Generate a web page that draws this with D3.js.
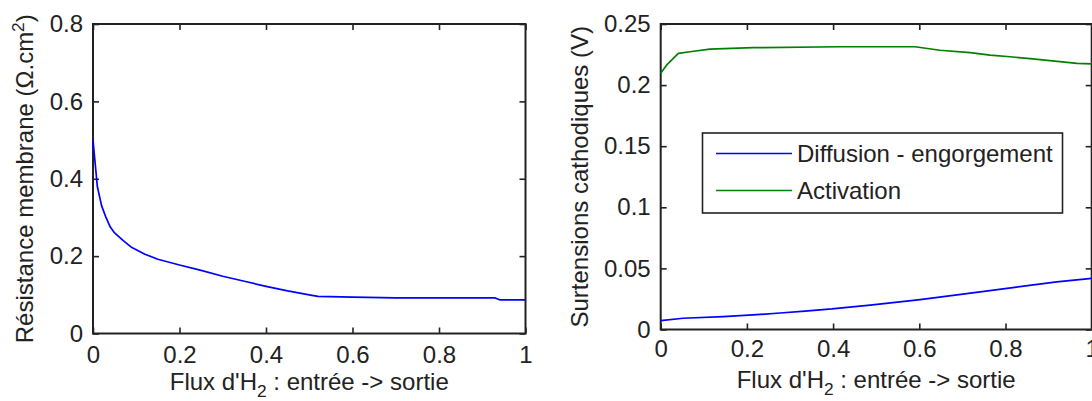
<!DOCTYPE html>
<html>
<head>
<meta charset="utf-8">
<script src="https://cdn.jsdelivr.net/npm/d3@7"></script>
<style>
  html, body { margin: 0; padding: 0; background: #fff; }
  svg { display: block; }
  text { font-family: "Liberation Sans", Arial, Helvetica, sans-serif; fill: #222; }
</style>
</head>
<body>
<svg id="chart" width="1092" height="401"></svg>
<script>
// ---------- data ----------
const xTickValues = [0, 0.2, 0.4, 0.6, 0.8, 1];
const xTickLabels = ["0", "0.2", "0.4", "0.6", "0.8", "1"];

const leftYTickValues = [0, 0.2, 0.4, 0.6, 0.8];
const leftYTickLabels = ["0", "0.2", "0.4", "0.6", "0.8"];

const rightYTickValues = [0, 0.05, 0.1, 0.15, 0.2, 0.25];
const rightYTickLabels = ["0", "0.05", "0.1", "0.15", "0.2", "0.25"];

// Résistance membrane
const resX = [0, 0.005, 0.01, 0.02, 0.03, 0.04, 0.05, 0.07, 0.09, 0.12, 0.15, 0.2, 0.25, 0.3, 0.35, 0.4, 0.45, 0.5, 0.52, 0.6, 0.7, 0.8, 0.9, 0.93, 0.94, 1.0];
const resY = [0.5, 0.44, 0.38, 0.33, 0.30, 0.275, 0.26, 0.24, 0.222, 0.205, 0.192, 0.177, 0.163, 0.148, 0.135, 0.122, 0.11, 0.1, 0.096, 0.094, 0.092, 0.092, 0.092, 0.092, 0.087, 0.087];

// Surtensions cathodiques
const diffX = [0, 0.052, 0.145, 0.214, 0.277, 0.335, 0.397, 0.486, 0.602, 0.71, 0.817, 0.919, 1];
const diffY = [0.0072, 0.0092, 0.0105, 0.0119, 0.0135, 0.0151, 0.0168, 0.0200, 0.0245, 0.0294, 0.0343, 0.0390, 0.0419];

const actX = [0, 0.014, 0.041, 0.068, 0.114, 0.214, 0.416, 0.59, 0.648, 0.718, 0.764, 0.811, 0.857, 0.903, 0.966, 1];
const actY = [0.2097, 0.2165, 0.226, 0.2273, 0.2295, 0.2306, 0.2314, 0.2314, 0.2285, 0.2265, 0.2246, 0.2232, 0.2216, 0.2200, 0.2178, 0.2173];

const seriesNames = ["Diffusion - engorgement", "Activation"];
const seriesColors = ["#0000ff", "#008000"];

// ---------- drawing ----------
const svg = d3.select("#chart");
const FS = 24;

function panel(opts) {
  const { left, top, width, height, yDomain, yVals, yLabs, xPad, yPad } = opts;
  const g = svg.append("g").attr("transform", `translate(${left},${top})`);
  const x = d3.scaleLinear().domain([0, 1]).range([0, width]);
  const y = d3.scaleLinear().domain(yDomain).range([height, 0]);

  const tk = 6;
  const xb = g.append("g").attr("transform", `translate(0,${height})`)
    .call(d3.axisBottom(x).tickValues(xTickValues)
      .tickFormat((d, i) => xTickLabels[i]).tickSize(-tk).tickSizeOuter(0).tickPadding(xPad));
  const xt = g.append("g")
    .call(d3.axisTop(x).tickValues(xTickValues).tickFormat("").tickSize(-tk).tickSizeOuter(0));
  const yl = g.append("g")
    .call(d3.axisLeft(y).tickValues(yVals)
      .tickFormat((d, i) => yLabs[i]).tickSize(-tk).tickSizeOuter(0).tickPadding(yPad));
  const yr = g.append("g").attr("transform", `translate(${width},0)`)
    .call(d3.axisRight(y).tickValues(yVals).tickFormat("").tickSize(-tk).tickSizeOuter(0));

  [xb, xt, yl, yr].forEach(a => {
    a.select(".domain").remove();
    a.selectAll(".tick line").attr("stroke", "#222").attr("stroke-width", 1.6);
    a.selectAll(".tick text").attr("font-size", FS).attr("fill", "#222")
      .style("font-family", '"Liberation Sans", Arial, Helvetica, sans-serif');
  });

  g.append("rect").attr("x", 0).attr("y", 0).attr("width", width).attr("height", height)
    .attr("fill", "none").attr("stroke", "#222").attr("stroke-width", 2);

  return { g, x, y };
}

function drawLine(p, xs, ys, color) {
  const pts = xs.map((v, i) => [v, ys[i]]);
  p.g.append("path").datum(pts)
    .attr("fill", "none").attr("stroke", color).attr("stroke-width", 1.7)
    .attr("stroke-linejoin", "round")
    .attr("d", d3.line().x(d => p.x(d[0])).y(d => p.y(d[1])));
}

function xLabel(cx, baseline) {
  const t = svg.append("text").attr("x", cx).attr("y", baseline)
    .attr("text-anchor", "middle").attr("font-size", FS);
  t.append("tspan").text("Flux d'H");
  t.append("tspan").attr("font-size", FS * 0.72).attr("dy", 7).text("2");
  t.append("tspan").attr("dy", -7).text(" : entrée -> sortie");
}

// Left panel
const L = panel({ left: 93, top: 24, width: 432.5, height: 309.5,
  yDomain: [0, 0.8], yVals: leftYTickValues, yLabs: leftYTickLabels, xPad: 12, yPad: 10 });
drawLine(L, resX, resY, "#0000ff");

xLabel(93 + 432.5 / 2, 390);
{
  const t = svg.append("text")
    .attr("transform", `translate(33,${24 + 309.5 / 2}) rotate(-90)`)
    .attr("text-anchor", "middle").attr("font-size", FS);
  t.append("tspan").text("Résistance membrane (Ω.cm");
  t.append("tspan").attr("font-size", FS * 0.72).attr("dy", -9).text("2");
  t.append("tspan").attr("dy", 9).text(")");
}

// Right panel
const R = panel({ left: 660.7, top: 24, width: 431, height: 305.5,
  yDomain: [0, 0.25], yVals: rightYTickValues, yLabs: rightYTickLabels, xPad: 10, yPad: 10 });
drawLine(R, diffX, diffY, seriesColors[0]);
drawLine(R, actX, actY, seriesColors[1]);

xLabel(660.7 + 431 / 2, 388);
svg.append("text")
  .attr("transform", `translate(588,${24 + 305.5 / 2}) rotate(-90)`)
  .attr("text-anchor", "middle").attr("font-size", FS)
  .text("Surtensions cathodiques (V)");

// Legend
const lg = svg.append("g").attr("transform", "translate(702.5,133)");
lg.append("rect").attr("width", 360).attr("height", 80)
  .attr("fill", "#fff").attr("stroke", "#222").attr("stroke-width", 1.6);
seriesNames.forEach((name, i) => {
  const yy = 20.5 + i * 37;
  lg.append("line").attr("x1", 13.5).attr("x2", 89.5).attr("y1", yy).attr("y2", yy)
    .attr("stroke", seriesColors[i]).attr("stroke-width", 1.7);
  lg.append("text").attr("x", 94.5).attr("y", yy).attr("dy", "0.35em")
    .attr("font-size", FS).text(name);
});
</script>
</body>
</html>
